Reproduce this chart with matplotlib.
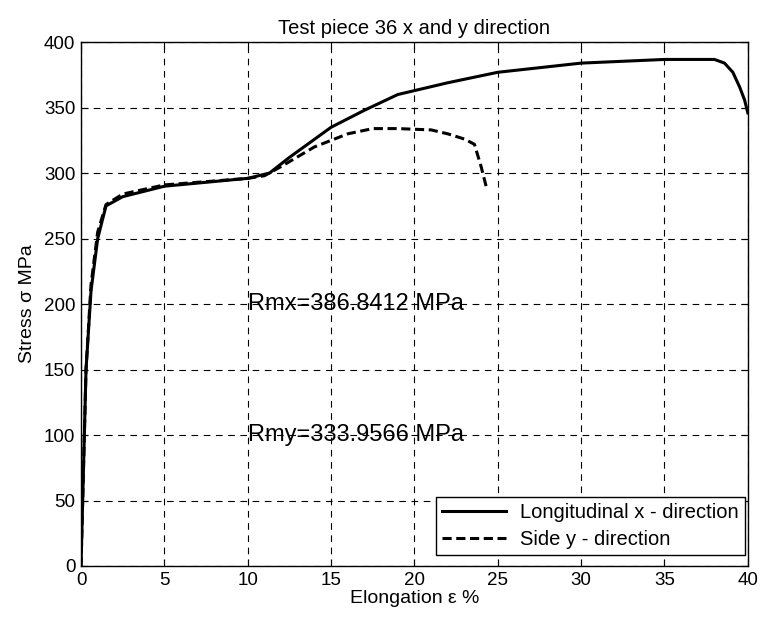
import matplotlib
matplotlib.use("Agg")
import matplotlib.pyplot as plt

plt.rcParams['font.family'] = ['Liberation Sans', 'DejaVu Sans']

x_long = [0, 0.3, 0.6, 1.0, 1.5, 2.5, 5, 10, 11.3, 12.5, 15, 17, 19, 22, 25, 30, 35, 38, 38.6, 39.1, 39.5, 39.8, 40.0]
y_long = [0, 150, 210, 250, 275, 282, 290, 296, 300, 312, 335, 348, 360, 369, 377, 384, 386.8, 386.8, 384, 377, 366, 356, 346]

x_side = [0, 0.3, 0.6, 1.0, 1.5, 2.5, 5, 10, 11, 12, 14, 16, 17.5, 19, 21, 22, 23, 23.6, 24.0, 24.3]
y_side = [0, 150, 215, 255, 276, 284, 291, 296, 298, 305, 320, 330, 334, 334, 333, 330, 326, 322, 305, 290]

xticks = [0, 5, 10, 15, 20, 25, 30, 35, 40]
yticks = [0, 50, 100, 150, 200, 250, 300, 350, 400]

fig = plt.figure(figsize=(7.6, 6.2), dpi=100)
ax = fig.add_axes([0.1066, 0.0871, 0.8774, 0.8449])

ax.plot(x_long, y_long, color='black', lw=2.2, label='Longitudinal x - direction')
ax.plot(x_side, y_side, color='black', lw=2.2, ls=(0, (3, 1.5)), label='Side y - direction')

ax.set_xlim(0, 40)
ax.set_ylim(0, 400)
ax.set_xticks(xticks)
ax.set_yticks(yticks)
ax.tick_params(direction='in', labelsize=13.5, length=5, top=True, right=True, pad=4)
ax.grid(True, color='black', ls=(0, (6, 5)), lw=0.8)
for s in ax.spines.values():
    s.set_linewidth(1.0)

ax.set_title('Test piece 36 x and y direction', fontsize=14.5, pad=6)
ax.set_xlabel('Elongation \u03b5 %', fontsize=14, labelpad=1)
ax.set_ylabel('Stress \u03c3 MPa', fontsize=14, labelpad=6)

ax.text(10, 200, 'Rmx=386.8412 MPa', fontsize=17, va='center', ha='left')
ax.text(10, 100, 'Rmy=333.9566 MPa', fontsize=17, va='center', ha='left')

leg = ax.legend(loc='lower right', bbox_to_anchor=(745 / 760, (620 - 555) / 620),
                bbox_transform=fig.transFigure, borderaxespad=0,
                prop={'size': 14.5}, fancybox=False, framealpha=1,
                edgecolor='black', handlelength=3.2, borderpad=0.3,
                labelspacing=0.4, handletextpad=0.7)
leg.get_frame().set_linewidth(1.0)

fig.savefig('out.png', dpi=100)
